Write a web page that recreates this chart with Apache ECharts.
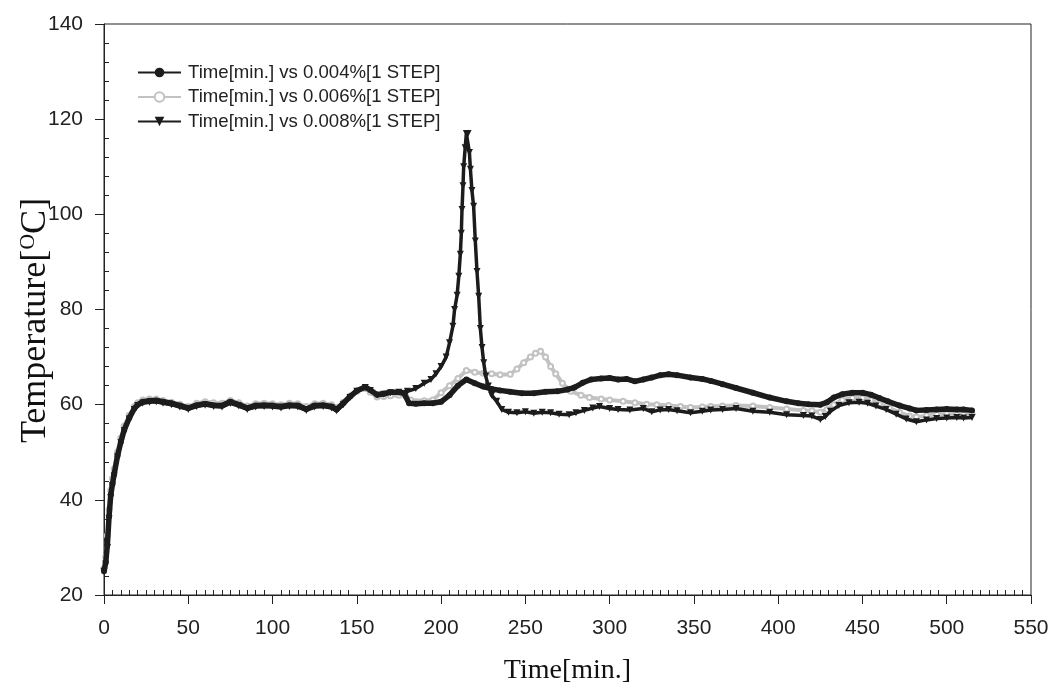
<!DOCTYPE html>
<html>
<head>
<meta charset="utf-8">
<script src="https://cdn.jsdelivr.net/npm/echarts@6/dist/echarts.min.js"></script>
<style>
  html, body { margin: 0; padding: 0; background: #fff; }
  #chart { width: 1051px; height: 685px; }
</style>
</head>
<body>
<div id="chart"></div>
<script>
// axis ticks
const xTicks = [0, 50, 100, 150, 200, 250, 300, 350, 400, 450, 500, 550];
const yTicks = [20, 40, 60, 80, 100, 120, 140];

const seriesNames = [
    'Time[min.] vs 0.004%[1 STEP]',
    'Time[min.] vs 0.006%[1 STEP]',
    'Time[min.] vs 0.008%[1 STEP]'
];

// 0.004% (circles)
const time004 = [0, 1, 2, 3, 4, 5, 6, 8, 10, 12, 15, 18, 20, 23, 27, 31, 35, 40, 45, 50, 55, 60, 65, 70, 75, 80, 85, 90, 95, 100, 105, 110, 115, 120, 125, 130, 135, 138, 142, 146, 150, 155, 158, 162, 166, 170, 175, 178, 181, 185, 190, 195, 200, 205, 210, 215, 220, 225, 230, 235, 241, 248, 255, 262, 269, 275, 279, 284, 289, 295, 300, 305, 310, 315, 320, 325, 330, 335, 340, 348, 355, 360, 367, 375, 385, 395, 405, 412, 418, 425, 429, 433, 438, 444, 450, 455, 460, 465, 472, 478, 482, 488, 494, 500, 506, 510, 515];
const temp004 = [25, 26.8, 30.5, 36.5, 41, 43.3, 45.3, 49.2, 52.2, 54.7, 57.2, 59.2, 60, 60.6, 60.8, 60.9, 60.6, 60.3, 59.8, 59.3, 59.9, 60.2, 59.9, 59.8, 60.6, 60, 59.3, 59.8, 59.9, 59.8, 59.6, 59.9, 59.8, 59.1, 59.8, 59.9, 59.6, 59, 60.3, 61.7, 62.9, 63.7, 63.1, 62.1, 62.3, 62.6, 62.6, 62.4, 60.3, 60.2, 60.3, 60.3, 60.6, 62, 64, 65.3, 64.5, 63.8, 63.3, 63, 62.7, 62.4, 62.4, 62.7, 62.8, 63.2, 63.6, 64.6, 65.3, 65.5, 65.6, 65.3, 65.4, 64.9, 65.3, 65.7, 66.2, 66.4, 66.2, 65.7, 65.4, 65, 64.3, 63.5, 62.5, 61.5, 60.7, 60.3, 60.1, 60, 60.5, 61.5, 62.2, 62.5, 62.5, 62.1, 61.4, 60.7, 59.8, 59.2, 58.8, 58.9, 59, 59.1, 59, 59, 58.8];

// 0.006% (grey, open circles)
const time006 = [0, 1, 2, 3, 4, 5, 6, 8, 10, 12, 15, 18, 20, 23, 27, 31, 35, 40, 45, 50, 55, 60, 65, 70, 75, 80, 85, 90, 95, 100, 105, 110, 115, 120, 125, 130, 135, 138, 142, 146, 150, 155, 158, 162, 166, 170, 175, 179, 182, 190, 195, 200, 205, 210, 215, 220, 225, 230, 235, 241, 245, 249, 253, 256, 259, 262, 265, 268, 272, 277, 283, 288, 295, 300, 308, 315, 322, 328, 335, 342, 348, 355, 360, 367, 375, 385, 395, 405, 415, 420, 425, 429, 433, 438, 444, 450, 455, 460, 466, 472, 478, 482, 488, 494, 500, 506, 510, 515];
const temp006 = [25.5, 28, 32.5, 38, 42, 44.5, 46.5, 50, 53, 55.5, 57.8, 59.6, 60.4, 61, 61.2, 61.2, 60.9, 60.5, 60.1, 59.6, 60.3, 60.6, 60.4, 60.3, 60.9, 60.4, 59.7, 60.2, 60.3, 60.2, 60, 60.3, 60.2, 59.6, 60.2, 60.3, 60, 59.4, 60.5, 61.8, 62.8, 63.4, 62.6, 61.6, 61.7, 61.9, 62, 61.8, 61, 60.8, 61, 62.5, 64, 65.5, 67.2, 66.8, 66.6, 66.5, 66.3, 66.4, 67.5, 68.8, 70, 70.8, 71.2, 70, 68, 66.5, 64.5, 62.8, 62, 61.5, 61.2, 61, 60.7, 60.4, 60.1, 60, 59.8, 59.6, 59.4, 59.5, 59.6, 59.7, 59.8, 59.7, 59.4, 59.1, 58.8, 58.7, 58.4, 59, 60, 61, 61.4, 61.4, 61, 60.2, 59.3, 58.4, 57.6, 57.4, 57.7, 58, 58.1, 58, 58, 58.1];

// 0.008% (down triangles, sharp peak)
const time008 = [0, 1, 2, 3, 4, 5, 6, 8, 10, 12, 15, 18, 20, 23, 27, 31, 35, 40, 45, 50, 55, 60, 65, 70, 75, 80, 85, 90, 95, 100, 105, 110, 115, 120, 125, 130, 135, 138, 142, 146, 150, 155, 158, 162, 166, 170, 175, 180, 185, 190, 194, 197, 200, 203, 205, 207, 208, 209.5, 210.5, 211.4, 212, 212.4, 213, 213.4, 214.3, 215, 216, 216.8, 217.4, 218.3, 219.3, 220.3, 221.3, 222.3, 223.3, 224.3, 225.3, 226.5, 228, 230, 233, 236, 240, 245, 250, 255, 260, 265, 270, 276, 280, 285, 290, 294, 300, 305, 312, 320, 325, 330, 335, 340, 348, 355, 360, 367, 375, 385, 395, 405, 415, 420, 425, 428, 431, 436, 442, 448, 453, 458, 464, 470, 476, 482, 488, 494, 500, 506, 510, 515];
const temp008 = [25, 26.5, 30, 36, 40.5, 43, 45, 49, 52, 54.5, 57, 59, 59.8, 60.3, 60.5, 60.6, 60.3, 60, 59.5, 59, 59.6, 59.9, 59.6, 59.5, 60.3, 59.7, 59, 59.5, 59.6, 59.5, 59.3, 59.6, 59.5, 58.8, 59.5, 59.6, 59.3, 58.7, 60, 61.5, 62.8, 63.6, 63, 62, 62.2, 62.5, 62.6, 62.8, 63.4, 64.5, 65.3, 66.5, 68, 70, 73, 76.5, 80, 83, 87, 91.6, 96, 101, 106, 110, 114, 117, 117, 113, 109.5, 105, 101.7, 94.4, 88, 82.8, 76, 72, 68.8, 66, 63.9, 62, 60.7, 59, 58.4, 58.3, 58.5, 58.2, 58.4, 58.3, 58, 57.9, 58.3, 58.8, 59.3, 59.6, 59.2, 59, 58.9, 59.2, 58.5, 58.9, 59, 58.7, 58.3, 58.6, 58.9, 59, 59.2, 58.6, 58.4, 57.9, 57.7, 57.6, 56.9, 57.5, 58.6, 59.8, 60.4, 60.5, 60.3, 59.7, 59, 58, 57, 56.4, 56.8, 57.1, 57.2, 57.3, 57.2, 57.3];

const pairs = (xs, ys) => xs.map((x, i) => [x, ys[i]]);

const sansFont = "'Liberation Sans', Arial, sans-serif";
const serifFont = "'Liberation Serif', 'Times New Roman', serif";
const dark = '#1c1c1c';
const grey = '#c2c2c2';

const chart = echarts.init(document.getElementById('chart'), null, { renderer: 'canvas' });

const option = {
    backgroundColor: '#fff',
    animation: false,
    grid: {
        left: 104,
        right: 20,
        top: 24,
        bottom: 90,
        containLabel: false,
        outerBoundsMode: 'none',
        show: true,
        borderColor: '#222',
        borderWidth: 1
    },
    legend: {
        orient: 'vertical',
        left: 132,
        top: 58,
        itemWidth: 43,
        itemHeight: 12,
        itemGap: 5.5,
        textStyle: {
            fontFamily: sansFont,
            fontSize: 18.6,
            color: '#222',
            lineHeight: 18,
            padding: [0, 0, 0, 2]
        },
        data: seriesNames
    },
    xAxis: {
        type: 'value',
        min: xTicks[0],
        max: xTicks[xTicks.length - 1],
        interval: 50,
        name: 'Time[min.]',
        nameLocation: 'middle',
        nameGap: 62,
        nameMoveOverlap: false,
        nameTextStyle: { fontFamily: serifFont, fontSize: 28, color: '#111' },
        axisLine: { show: true, lineStyle: { color: '#222', width: 1 } },
        axisTick: { show: true, inside: false, length: 9, lineStyle: { color: '#222' } },
        minorTick: { show: true, splitNumber: 10, length: -5, lineStyle: { color: '#222' } },
        splitLine: { show: false },
        axisLabel: { fontFamily: sansFont, fontSize: 21, color: '#222', margin: 23 }
    },
    yAxis: {
        type: 'value',
        min: yTicks[0],
        max: yTicks[yTicks.length - 1],
        interval: 20,
        name: '{a|Temperature[}{s|O}{a|C]}',
        nameLocation: 'middle',
        nameGap: 49,
        nameMoveOverlap: false,
        nameTextStyle: {
            padding: [0, 22, 0, 0],
            rich: {
                a: { fontFamily: serifFont, fontSize: 36, color: '#111', lineHeight: 38 },
                s: { fontFamily: serifFont, fontSize: 22, color: '#111', verticalAlign: 'top', lineHeight: 38 }
            }
        },
        axisLine: { show: true, lineStyle: { color: '#222', width: 1 } },
        axisTick: { show: true, inside: false, length: 9, lineStyle: { color: '#222' } },
        minorTick: { show: true, splitNumber: 5, length: -5, lineStyle: { color: '#222' } },
        splitLine: { show: false },
        axisLabel: { fontFamily: sansFont, fontSize: 21, color: '#222', margin: 21 }
    },
    series: [
        {
            name: seriesNames[0],
            type: 'line',
            data: pairs(time004, temp004),
            symbol: 'circle',
            symbolSize: 6,
            itemStyle: { color: dark },
            lineStyle: { color: dark, width: 5.5 },
            z: 3
        },
        {
            name: seriesNames[1],
            type: 'line',
            data: pairs(time006, temp006),
            symbol: 'emptyCircle',
            symbolSize: 5,
            itemStyle: { color: grey, borderColor: grey },
            lineStyle: { color: grey, width: 4 },
            z: 1
        },
        {
            name: seriesNames[2],
            type: 'line',
            data: pairs(time008, temp008),
            symbol: 'triangle',
            symbolRotate: 180,
            symbolSize: 7,
            itemStyle: { color: dark },
            lineStyle: { color: dark, width: 3.5 },
            z: 2
        }
    ]
};

chart.setOption(option);
</script>
</body>
</html>
